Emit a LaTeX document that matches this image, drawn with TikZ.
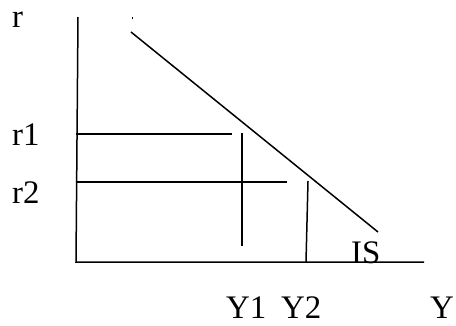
\documentclass[tikz,border=0pt]{standalone}
\usepackage{fontspec}
\setmainfont{Liberation Serif}
\usetikzlibrary{positioning}

\begin{document}
\begin{tikzpicture}[
    x=1bp, y=-1bp,
    curve/.style={line width=1.5bp, black},
    lbl/.style={anchor=base west, inner sep=0pt, font=\fontsize{33}{36}\selectfont}
]
    \useasboundingbox (0,0) rectangle (456,325);

    % axes
    \coordinate (top) at (78,17);
    \coordinate (origin) at (76,262);
    \coordinate (right) at (424,262);
    \draw[curve] (top) -- (origin) -- (right);

    % IS curve
    \coordinate (is1) at (131,32);
    \coordinate (is2) at (378,232);
    \draw[curve] (is1) -- (is2);
    \fill (131.5,17) rectangle (133,18.5);

    % interest rates and output levels
    \coordinate (r1a) at (76,134);
    \coordinate (r1b) at (232,134);
    \coordinate (r2a) at (76,182);
    \coordinate (r2b) at (287,182);
    \coordinate (y1a) at (242,133);
    \coordinate (y1b) at (242,246);
    \coordinate (y2a) at (308,181);
    \coordinate (y2b) at (306,262);
    \draw[curve] (r1a) -- (r1b);
    \draw[curve] (r2a) -- (r2b);
    \draw[curve] (y1a) -- (y1b);
    \draw[curve] (y2a) -- (y2b);

    % labels
    \node[lbl] (rlab) at (12,27) {r};
    \node[lbl] (r1lab) at (12,145) {r1};
    \node[lbl] (r2lab) at (12,203) {r2};
    \node[lbl] (islab) at (351,263) {IS};
    \node[lbl] (y1lab) at (226,318) {Y1};
    \node[lbl] (y2lab) at (281,318) {Y2};
    \node[lbl] (ylab) at (430,318) {Y};
\end{tikzpicture}
\end{document}
